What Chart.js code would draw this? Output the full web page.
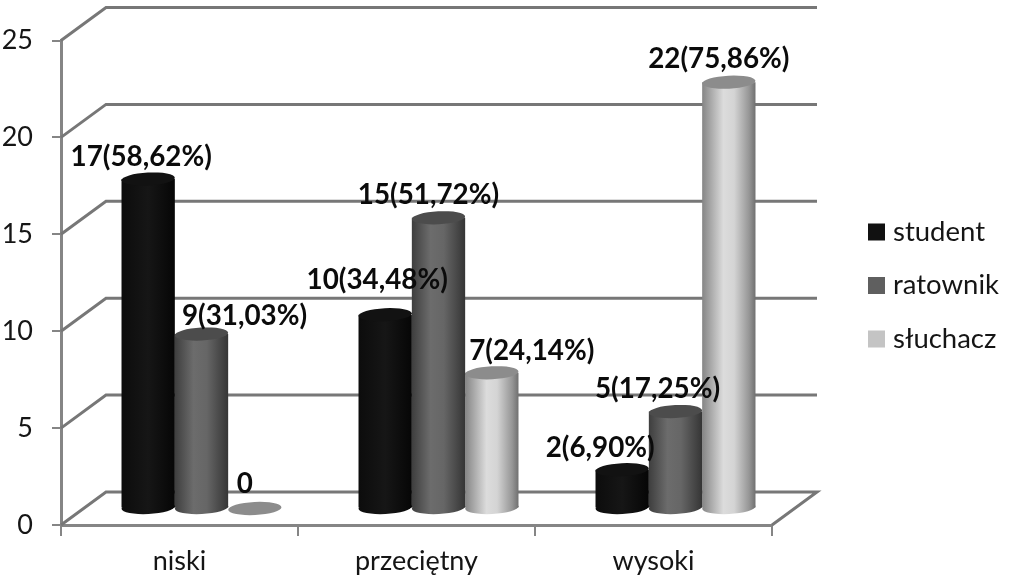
<!DOCTYPE html>
<html><head><meta charset="utf-8">
<style>html,body{margin:0;padding:0;background:#fff}#w{width:1016px;height:581px}canvas{filter:blur(0.6px)}</style>
<script src="https://cdn.jsdelivr.net/npm/chart.js@4"></script></head>
<body><div id="w"><canvas id="c" width="1016" height="581"></canvas></div>
<script>
const categories = ['niski', 'przeciętny', 'wysoki'];
const seriesNames = ['student', 'ratownik', 'słuchacz'];
const student = [17, 10, 2];
const ratownik = [9, 15, 5];
const sluchacz = [0, 7, 22];
const studentLabels = ['17(58,62%)', '10(34,48%)', '2(6,90%)'];
const ratownikLabels = ['9(31,03%)', '15(51,72%)', '5(17,25%)'];
const sluchaczLabels = ['0', '7(24,14%)', '22(75,86%)'];
const yTicks = [0, 5, 10, 15, 20, 25];

// styling
const DX = 22, DY = -16.5, RY = 6.5, TILT = -0.05;
const grads = [
  [[0,'#0c0c0c'],[.5,'#161616'],[1,'#060606']],
  [[0,'#3e3e3e'],[.35,'#6c6c6c'],[.6,'#666666'],[1,'#353535']],
  [[0,'#858585'],[.4,'#dcdcdc'],[.6,'#d4d4d4'],[.88,'#969696'],[1,'#707070']]
];
const tops = ['#121212', '#4c4c4c', '#8c8c8c'];
const swatches = ['#111111', '#5f5f5f', '#c4c4c4'];
const labelOff = [
  [[-7,-22],[-8,-35],[-22,-22]],
  [[43,-18],[-10,-23],[-18,-23]],
  [[-10,-24],[40,-22],[-10,-23]]
];
const allLabels = [studentLabels, ratownikLabels, sluchaczLabels];
const LINE = '#777777', AXIS = '#858585', FONT = 'Lato, sans-serif';
const CAT_PCT = 0.675;

function barGrad(c) {
  const chart = c.chart, x = chart.scales.x;
  const fallback = grads[c.datasetIndex][1][1];
  if (!x || c.type !== 'data') return fallback;
  const catW = x.getPixelForValue(1, 1) - x.getPixelForValue(0, 0);
  const w = catW * CAT_PCT / 3;
  const cx = x.getPixelForValue(c.dataIndex, c.dataIndex) + (c.datasetIndex - 1) * w;
  if (!isFinite(cx) || !isFinite(w)) return fallback;
  const g = chart.ctx.createLinearGradient(cx - w / 2, 0, cx + w / 2, 0);
  grads[c.datasetIndex].forEach(s => g.addColorStop(s[0], s[1]));
  return g;
}

const wallPlugin = {
  id: 'wall',
  beforeDatasetsDraw(chart) {
    const { ctx, chartArea: a, scales: { y } } = chart;
    ctx.save();
    ctx.strokeStyle = LINE; ctx.lineWidth = 3; ctx.lineJoin = 'miter';
    const bx = 45, by = -33;
    yTicks.forEach(v => {
      const p = y.getPixelForValue(v);
      ctx.beginPath();
      ctx.moveTo(a.left, p);
      ctx.lineTo(a.left + bx, p + by);
      ctx.lineTo(a.right + bx, p + by);
      if (v === 0) ctx.lineTo(a.right, p);
      ctx.stroke();
    });
    ctx.restore();
  },
  beforeDatasetDraw(chart) {
    chart.ctx.save();
    chart.ctx.translate(DX, DY);
  },
  afterDatasetDraw(chart, args) {
    const { ctx } = chart, i = args.index, meta = args.meta;
    meta.data.forEach((el, k) => {
      const w = el.width, rx = w / 2;
      if (el.base - el.y > 0.5) {
        ctx.fillStyle = el.options.backgroundColor;
        ctx.beginPath();
        ctx.ellipse(el.x, el.base, rx, RY, TILT, 0, Math.PI * 2);
        ctx.fill();
      }
      ctx.fillStyle = tops[i];
      ctx.beginPath();
      ctx.ellipse(el.x, el.y, rx, RY, TILT, 0, Math.PI * 2);
      ctx.fill();
    });
    ctx.restore();
  },
  afterDraw(chart) {
    const { ctx } = chart;
    ctx.save();
    ctx.fillStyle = '#0b0b0b';
    ctx.font = 'bold 27.8px ' + FONT;
    ctx.textAlign = 'center'; ctx.textBaseline = 'middle';
    chart.data.datasets.forEach((ds, i) => {
      chart.getDatasetMeta(i).data.forEach((el, k) => {
        const o = labelOff[i][k];
        ctx.fillText(allLabels[i][k], el.x + DX + o[0], el.y + DY + o[1]);
      });
    });
    ctx.textAlign = 'left';
    ctx.font = '27.5px ' + FONT;
    const rows = [232, 285.5, 339];
    seriesNames.forEach((n, i) => {
      ctx.fillStyle = swatches[i];
      ctx.fillRect(868, rows[i] - 8.5, 17, 17);
      ctx.fillStyle = '#151515';
      ctx.fillText(n, 893, rows[i]);
    });
    ctx.restore();
  }
};

new Chart(document.getElementById('c'), {
  type: 'bar',
  data: {
    labels: categories,
    datasets: [student, ratownik, sluchacz].map((d, i) => ({
      label: seriesNames[i], data: d, backgroundColor: barGrad,
      borderWidth: 0, clip: false,
      barPercentage: 1, categoryPercentage: CAT_PCT
    }))
  },
  options: {
    responsive: false, animation: false,
    layout: { padding: { left: 0, right: 244, top: 40.5, bottom: 0 } },
    plugins: { legend: { display: false }, tooltip: { enabled: false } },
    scales: {
      x: {
        afterFit(s) { s.height = 56; },
        grid: { drawOnChartArea: false, drawTicks: true, tickLength: 11, color: AXIS, lineWidth: 2 },
        border: { display: true, color: AXIS, width: 3 },
        ticks: { color: '#151515', font: { family: 'Lato, sans-serif', size: 27 }, padding: 9, maxRotation: 0 }
      },
      y: {
        min: 0, max: 25,
        afterFit(s) { s.width = 61; },
        afterBuildTicks(s) { s.ticks = yTicks.map(v => ({ value: v })); },
        grid: { drawOnChartArea: false, drawTicks: true, tickLength: 9, color: AXIS, lineWidth: 2 },
        border: { display: true, color: AXIS, width: 3 },
        ticks: { color: '#151515', font: { family: 'Lato, sans-serif', size: 27 }, padding: 19 }
      }
    }
  },
  plugins: [wallPlugin]
});
</script></body></html>
